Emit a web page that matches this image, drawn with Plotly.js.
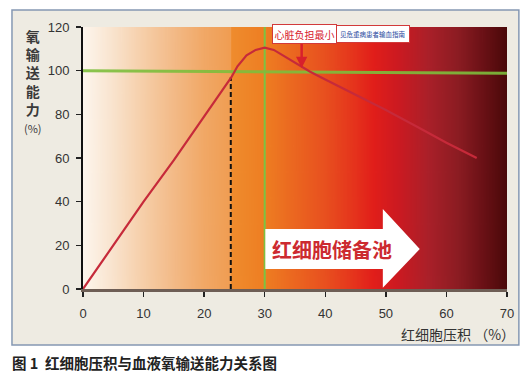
<!DOCTYPE html>
<html><head><meta charset="utf-8">
<script src="https://cdn.plot.ly/plotly-3.0.1.min.js"></script>
<style>html,body{margin:0;padding:0;background:#fff}#chart{width:528px;height:378px}</style>
</head><body><div id="chart"></div>
<script>
// Data
const hct = [0, 5, 10, 15, 20, 24.5, 25.5, 27, 28.5, 30, 31.5, 33, 35, 37.5, 40, 45, 50, 55, 60, 65];
const o2  = [0, 20, 40, 59, 79, 97, 102, 107, 109.5, 110.5, 109.5, 107, 104, 99.5, 96, 89, 82, 74.5, 67, 60];
const xTicks = [0, 10, 20, 30, 40, 50, 60, 70];
const yTicks = [0, 20, 40, 60, 80, 100, 120];
const optimalHct = 30;
const thresholdHct = 24.4;
const thresholdO2 = 97;
const refLineX = [0, 70];
const refLineO2 = [100, 98.8];
const yTitleChars = ['氧', '输', '送', '能', '力'];
const yTitleUnit = '(%)';
const xTitle = '红细胞压积 （%）';
const caption = '图 1  红细胞压积与血液氧输送能力关系图';
const poolLabel = '红细胞储备池';
const noteMain = '心脏负担最小';
const noteSub = '见危重病患者输血指南';

// background gradient (style only)
function gradientURL() {
  const c = document.createElement('canvas');
  c.width = 700; c.height = 10;
  const g = c.getContext('2d');
  const gr = g.createLinearGradient(0, 0, 700, 0);
  const stops = [
    [0, '#fdf6ee'], [5, '#f9e3cd'], [10, '#f6cea8'], [15, '#f3ba87'], [20, '#f1a866'], [24.4, '#f09d52'],
    [24.5, '#ef8c2e'], [30, '#ee7e22'], [35, '#eb6620'], [40, '#e8501f'], [45, '#e5321c'], [48, '#e11e1a'],
    [52, '#cc1a21'], [57, '#aa2029'], [62, '#8b1c22'], [66, '#6b1116'], [70, '#4a0909']
  ];
  stops.forEach(s => gr.addColorStop(s[0] / 70, s[1]));
  g.fillStyle = gr; g.fillRect(0, 0, 700, 10);
  return c.toDataURL();
}

const cjk = '"Noto Sans CJK SC", sans-serif';
const traces = [
  { x: [optimalHct, optimalHct], y: [0, 120], mode: 'lines', line: { color: '#7cc242', width: 2 }, hoverinfo: 'skip', cliponaxis: false },
  { x: refLineX, y: refLineO2, mode: 'lines', line: { color: 'rgba(125,190,60,0.9)', width: 3 }, hoverinfo: 'skip' },
  { x: [thresholdHct, thresholdHct], y: [0, thresholdO2], mode: 'lines', line: { color: '#111', width: 2, dash: '5px,3px' }, hoverinfo: 'skip' },
  { x: hct, y: o2, mode: 'lines', line: { color: '#c62a3a', width: 2.2 }, cliponaxis: false }
];

const layout = {
  width: 528, height: 378,
  margin: { l: 83, r: 21, t: 27, b: 89, pad: 0 },
  paper_bgcolor: '#ffffff', plot_bgcolor: '#ffffff',
  showlegend: false,
  font: { family: '"Liberation Sans", Arial, sans-serif', size: 13, color: '#333' },
  xaxis: { range: [0, 70], tickvals: xTicks, ticks: 'outside', ticklen: 5, tickwidth: 1.5, tickcolor: '#222',
           showline: true, linecolor: '#6e5e55', linewidth: 3, showgrid: false, zeroline: false,
           ticklabelstandoff: 5, tickfont: { size: 13, color: '#333' } },
  yaxis: { range: [0, 120], tickvals: yTicks, ticks: 'outside', ticklen: 5, tickwidth: 1.5, tickcolor: '#222',
           showline: true, linecolor: '#111', linewidth: 2, showgrid: false, zeroline: false,
           ticklabelstandoff: 4, tickfont: { size: 13, color: '#333' } },
  images: [{ source: gradientURL(), xref: 'x', yref: 'y', x: 0, y: 120, sizex: 70, sizey: 120,
             sizing: 'stretch', layer: 'below', xanchor: 'left', yanchor: 'top' }],
  shapes: [
    { type: 'path', xref: 'paper', yref: 'paper', layer: 'below',
      path: 'M -0.1675,-0.214 L 1.028,-0.214 L 1.028,1.065 L -0.1675,1.065 Z M 0,0 L 0,1 L 1,1 L 1,0 Z',
      fillcolor: '#eeebe2', line: { width: 0 } },
    { type: 'rect', xref: 'paper', yref: 'paper', layer: 'below', x0: -0.1675, x1: 1.028, y0: -0.214, y1: 1.065,
      line: { color: '#8598b3', width: 1.5 }, fillcolor: 'rgba(0,0,0,0)' },
    { type: 'path', xref: 'x', yref: 'y', layer: 'above',
      path: 'M 30.1,9.2 L 49.5,9.2 L 49.5,0.6 L 55.6,18.3 L 49.5,36.6 L 49.5,27.5 L 30.1,27.5 Z',
      fillcolor: '#ffffff', line: { width: 0 } }
  ],
  annotations: [
    { xref: 'paper', yref: 'paper', x: -0.118, y: 1.01, xanchor: 'center', yanchor: 'top', showarrow: false,
      text: '<b>' + yTitleChars.join('<br>') + '</b><br><span style="font-size:11px">' + yTitleUnit + '</span>',
      font: { family: cjk, size: 14, color: '#3a3a3a' } },
    { xref: 'paper', yref: 'paper', x: 1.0236, y: -0.172, xanchor: 'right', yanchor: 'middle', showarrow: false,
      text: xTitle, font: { family: cjk, size: 14, color: '#333' } },
    { xref: 'paper', yref: 'paper', x: -0.172, y: -0.279, xanchor: 'left', yanchor: 'middle', showarrow: false,
      text: '<b>' + caption + '</b>', font: { family: cjk, size: 14.5, color: '#222' } },
    { xref: 'x', yref: 'y', x: 41.1, y: 17.9, showarrow: false,
      text: '<b>' + poolLabel + '</b>', font: { family: cjk, size: 20, color: '#cc2a30' } },
    { xref: 'x', yref: 'y', x: 36.1, y: 101.2, ax: 0, ay: -27, showarrow: true, text: '',
      arrowcolor: '#d8202c', arrowwidth: 2.5, arrowhead: 2, arrowsize: 0.9 },
    { xref: 'x', yref: 'y', x: 36.6, y: 117, showarrow: false, text: noteMain,
      font: { family: cjk, size: 10, color: '#d8202c' }, bgcolor: '#ffffff', bordercolor: '#d23a3a', borderwidth: 1, borderpad: 1.5 },
    { xref: 'x', yref: 'y', x: 47.9, y: 117, showarrow: false, text: noteSub,
      font: { family: cjk, size: 6.5, color: '#2a4aa0' }, bgcolor: '#ffffff', bordercolor: '#d23a3a', borderwidth: 1, borderpad: 3 }
  ]
};

Plotly.newPlot('chart', traces, layout, { displayModeBar: false, staticPlot: true });
</script>
</body></html>
